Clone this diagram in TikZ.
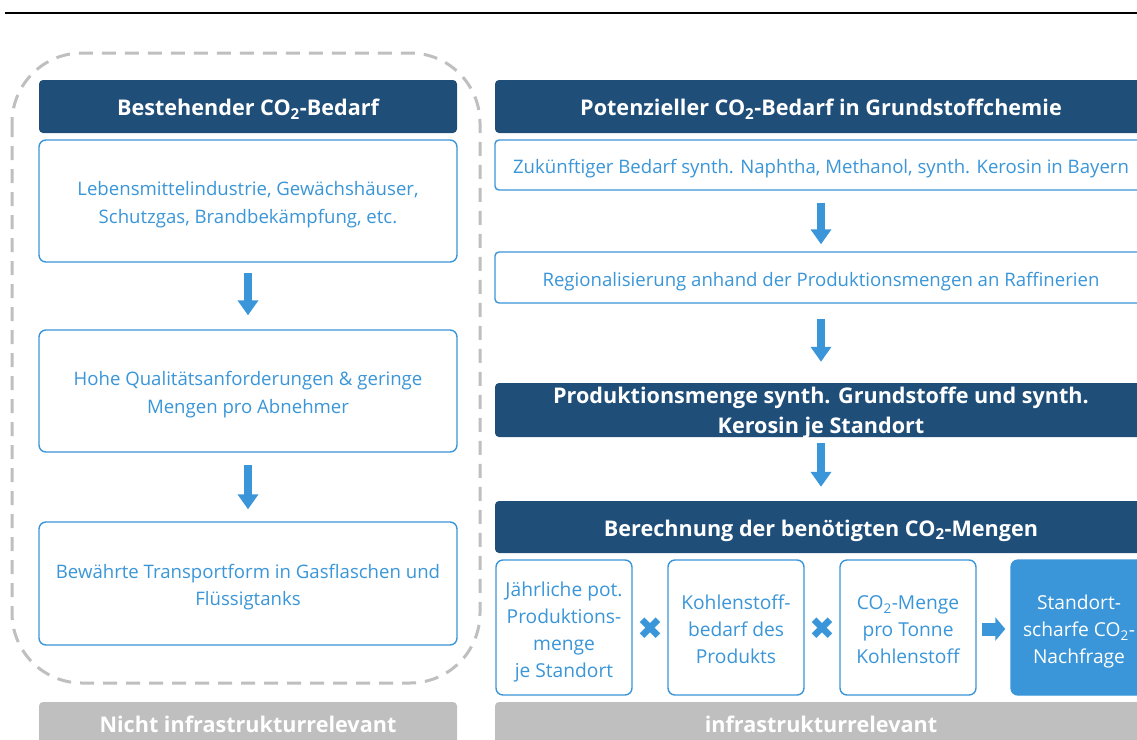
\documentclass[tikz,border=0pt]{standalone}
\usepackage{fontspec}
\setmainfont{Open Sans}
\newfontfamily\symfont{DejaVu Sans}
\usetikzlibrary{arrows.meta,calc}
\definecolor{hdrblue}{HTML}{1F4E79}
\definecolor{txtblue}{HTML}{3A96D8}
\definecolor{lgray}{HTML}{BFBFBF}
\newcommand{\tb}[2][3pt]{\raisebox{-#1}[\height][\depth]{\begin{tabular}{@{}c@{}}#2\end{tabular}}}
\newcommand{\tbfix}[1]{\raisebox{-8pt}[27pt][27pt]{\begin{tabular}{@{}c@{}}#1\end{tabular}}}
\tikzset{
  hdr/.style={inner sep=0pt, fill=hdrblue, draw=none, rounded corners=4pt, text=white,
    font=\fontsize{21.6}{30}\selectfont\bfseries},
  wbox/.style={inner sep=0pt, draw=txtblue, line width=1.4pt, fill=white, rounded corners=7pt, text=txtblue,
    font=\fontsize{18.6}{27.5}\selectfont},
  sbox/.style={wbox, font=\fontsize{19.2}{27}\selectfont},
  fbox/.style={inner sep=0pt, fill=txtblue, draw=txtblue, line width=1.4pt, rounded corners=7pt, text=white,
    font=\fontsize{19.2}{27}\selectfont},
  gbox/.style={inner sep=0pt, fill=lgray, draw=none, rounded corners=4pt, text=white,
    font=\fontsize{21.6}{30}\selectfont\bfseries},
  downarr/.style={draw=txtblue, line width=8pt, -{Triangle[width=20pt,length=15pt]}},
  rightarr/.style={draw=txtblue, line width=13pt, -{Triangle[width=23pt,length=10pt]}},
  crossmark/.style={text=txtblue, font=\symfont\fontsize{31}{31}\selectfont, inner sep=0pt},
}
\begin{document}
\begin{tikzpicture}[x=1pt,y=-1pt]
\useasboundingbox (0,0) rectangle (1137,739);
% top rule
\draw[line width=2pt] (5,13) coordinate (tl) -- (1137,13) coordinate (tr);
% dashed group
\draw[lgray, line width=3pt, dash pattern=on 14pt off 9pt, rounded corners=70pt]
  (12,53) rectangle (480,683);
% left column
\node[hdr, minimum width=418, minimum height=53] (lh) at (248,106.5) {\tb{Bestehender CO\textsubscript{2}-Bedarf}};
\node[wbox, minimum width=418, minimum height=122] (lb1) at (248,201) {\tb{Lebensmittelindustrie, Gewächshäuser,\\Schutzgas, Brandbekämpfung, etc.}};
\node[wbox, minimum width=418, minimum height=122] (lb2) at (248,391) {\tb{Hohe Qualitätsanforderungen \& geringe\\Mengen pro Abnehmer}};
\node[wbox, minimum width=418, minimum height=123] (lb3) at (248,583.5) {\tb{Bewährte Transportform in Gasflaschen und\\Flüssigtanks}};
\node[gbox, minimum width=418, minimum height=46] (lg) at (248,725) {\tb[1pt]{Nicht infrastrukturrelevant}};
\draw[downarr] ([yshift=-10pt]lb1.south) -- ([yshift=14pt]lb2.north);
\draw[downarr] ([yshift=-12pt]lb2.south) -- ([yshift=12pt]lb3.north);
% right column
\node[hdr, minimum width=652, minimum height=53] (rh) at (821,106.5) {\tb{Potenzieller CO\textsubscript{2}-Bedarf in Grundstoffchemie}};
\node[wbox, minimum width=652, minimum height=50, rounded corners=4pt] (rb1) at (821,165) {\tb{Zukünftiger Bedarf synth. Naphtha, Methanol, synth. Kerosin in Bayern}};
\node[wbox, minimum width=652, minimum height=51, rounded corners=4pt] (rb2) at (821,277.5) {\tb{Regionalisierung anhand der Produktionsmengen an Raffinerien}};
\node[hdr, minimum width=652, minimum height=54] (rh2) at (821,410) {\tbfix{Produktionsmenge synth. Grundstoffe und synth.\\Kerosin je Standort}};
\node[hdr, minimum width=652, minimum height=52] (rh3) at (821,527) {\tb{Berechnung der benötigten CO\textsubscript{2}-Mengen}};
\draw[downarr] ([yshift=-12pt]rb1.south) -- ([yshift=7pt]rb2.north);
\draw[downarr] ([yshift=-15pt]rb2.south) -- ([yshift=21pt]rh2.north);
\draw[downarr] ([yshift=-6pt]rh2.south) -- ([yshift=14pt]rh3.north);
% small boxes
\node[sbox, minimum width=136, minimum height=135] (s1) at (564,627.5) {\tb[4pt]{Jährliche pot.\\Produktions-\\menge\\je Standort}};
\node[sbox, minimum width=136, minimum height=135] (s2) at (736,627.5) {\tb[4pt]{Kohlenstoff-\\bedarf des\\Produkts}};
\node[sbox, minimum width=136, minimum height=135] (s3) at (908,627.5) {\tb[4pt]{CO\textsubscript{2}-Menge\\pro Tonne\\Kohlenstoff}};
\node[fbox, minimum width=136, minimum height=135] (s4) at (1079,627.5) {\tb[4pt]{Standort-\\scharfe CO\textsubscript{2}-\\Nachfrage}};
\node[crossmark] (x1) at ($(s1.east)!0.5!(s2.west)+(0,1.5)$) {✖};
\node[crossmark] (x2) at ($(s2.east)!0.5!(s3.west)+(0,1.5)$) {✖};
\draw[rightarr] ([xshift=5pt,yshift=-1.5pt]s3.east) -- ([xshift=-5pt,yshift=-1.5pt]s4.west);
\node[gbox, minimum width=652, minimum height=46] (rg) at (821,725) {\tb[1pt]{infrastrukturrelevant}};
\end{tikzpicture}
\end{document}
